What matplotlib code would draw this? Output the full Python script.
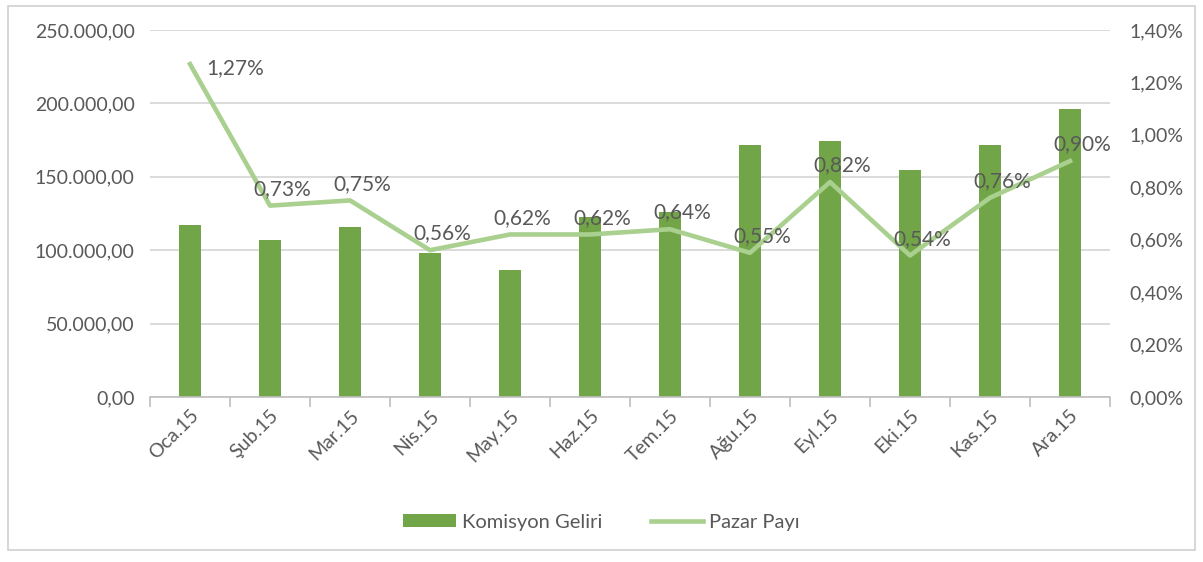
import matplotlib
matplotlib.use("Agg")
from matplotlib import pyplot as plt
from matplotlib.patches import Rectangle
from matplotlib.ticker import FuncFormatter

months = ["Oca.15", "Şub.15", "Mar.15", "Nis.15", "May.15", "Haz.15",
          "Tem.15", "Ağu.15", "Eyl.15", "Eki.15", "Kas.15", "Ara.15"]
komisyon = [117000, 107000, 116000, 98000, 86500, 122500,
            126000, 171500, 174500, 154500, 171500, 196000]
pazar_payi = [1.27, 0.73, 0.75, 0.56, 0.62, 0.62,
              0.64, 0.55, 0.82, 0.54, 0.76, 0.90]
left_ticks = [0, 50000, 100000, 150000, 200000, 250000]
right_ticks = [0, 0.2, 0.4, 0.6, 0.8, 1.0, 1.2, 1.4]

bar_color = "#72a548"
line_color = "#a9d08e"
text_color = "#595959"
grid_color = "#d4d4d4"

plt.rcParams["font.family"] = ["Lato", "DejaVu Sans"]

def tr_number(v, decimals=2):
    s = f"{v:,.{decimals}f}"
    return s.replace(",", "X").replace(".", ",").replace("X", ".")

fig = plt.figure(figsize=(12.03, 5.62), dpi=100)
fig.patches.append(Rectangle((0.007, 0.022), 0.986, 0.968, transform=fig.transFigure,
                             fill=False, edgecolor="#d0d0d0", linewidth=1.2))

ax = fig.add_axes([0.1247, 0.2936, 0.798, 0.653])
x = list(range(len(months)))

ax.bar(x, komisyon, width=0.28, color=bar_color, zorder=2, label="Komisyon Geliri")
ax.set_ylim(0, 250000)
ax.set_xlim(-0.5, len(months) - 0.5)
ax.set_yticks(left_ticks)
ax.yaxis.set_major_formatter(FuncFormatter(lambda v, p: tr_number(v)))
ax.grid(axis="y", color=grid_color, linewidth=1.2, zorder=0)
for s in ["top", "right", "left"]:
    ax.spines[s].set_visible(False)
ax.spines["bottom"].set_color("#bfbfbf")
ax.spines["bottom"].set_linewidth(1.2)
ax.tick_params(axis="y", length=0, pad=11, labelsize=14, labelcolor=text_color)

# category labels at centers, tick marks at boundaries
ax.set_xticks(x)
ax.set_xticklabels(months, rotation=45, ha="right", rotation_mode="anchor",
                   fontsize=14, color=text_color)
ax.tick_params(axis="x", length=0, pad=7)
ax.set_xticks([i - 0.5 for i in range(len(months) + 1)], minor=True)
ax.tick_params(axis="x", which="minor", length=7, color="#bfbfbf", width=1.2)

ax2 = ax.twinx()
ax2.plot(x, pazar_payi, color=line_color, linewidth=3.3, zorder=3, label="Pazar Payı")
ax2.set_ylim(0, 1.4)
ax2.set_yticks(right_ticks)
ax2.yaxis.set_major_formatter(FuncFormatter(lambda v, p: tr_number(v) + "%"))
for s in ["top", "right", "left", "bottom"]:
    ax2.spines[s].set_visible(False)
ax2.tick_params(axis="y", length=0, pad=14, labelsize=14, labelcolor=text_color)

for i, v in enumerate(pazar_payi):
    offset = (12, -3) if i == 0 else (9, 12)
    ha = "left" if i == 0 else "center"
    ax2.annotate(tr_number(v) + "%", (i, v), xytext=offset, textcoords="offset points",
                 ha=ha, va="center", fontsize=15, color=text_color, zorder=4)

h1, l1 = ax.get_legend_handles_labels()
h2, l2 = ax2.get_legend_handles_labels()
fig.legend(h1 + h2, l1 + l2, loc="center", bbox_to_anchor=(0.5, 0.071), ncol=2,
           frameon=False, fontsize=14.5, labelcolor=text_color,
           handlelength=2.6, handleheight=0.6, handletextpad=0.3, columnspacing=2.4)

fig.savefig("out.png", dpi=100)
